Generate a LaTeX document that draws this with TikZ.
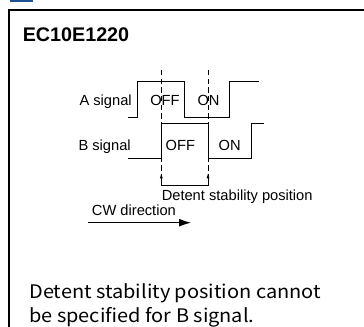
\documentclass[tikz,border=0pt]{standalone}
\usepackage{fontspec}
\setmainfont{Liberation Sans}
\newfontfamily\notefont[FakeStretch=1.07]{Noto Sans CJK JP}
\usetikzlibrary{arrows.meta}
\tikzset{>=Latex}
\tikzset{
  wave/.style={line width=0.6pt},
  guide/.style={line width=0.6pt,dash pattern=on 4pt off 2.5pt},
  lbl/.style={inner sep=0pt,font=\fontsize{11}{12}\selectfont},
  note/.style={inner sep=0pt,anchor=base west,font=\notefont\fontsize{14}{18}\selectfont},
}
\definecolor{tabblue}{HTML}{1C5393}
\def\level#1#2#3{
  \node[lbl,anchor=base] (#1) at (#2) {#3};
}

\begin{document}
\begin{tikzpicture}[x=0.75pt,y=-0.75pt]
\useasboundingbox (0,0) rectangle (364,327);
\fill[tabblue] (10,0) rectangle (33,1.8);
\draw[line width=1.6pt] (364,10) -- (9,10) -- (9,327);
\node[inner sep=0pt,anchor=base west,font=\bfseries\fontsize{14.8}{16}\selectfont] (title) at (22.5,42) {EC10E1220};
% waveforms
\draw[wave] (128,117.3) -- (137.7,117.3) -- (137.7,81.5) -- (184.5,81.5) -- (184.5,117.3)
  -- (229.3,117.3) -- (229.3,81.5) -- (258.5,81.5);
\draw[wave] (128,158.3) -- (161.3,158.3) -- (161.3,123.3) -- (208,123.3) -- (208,158.3)
  -- (251,158.3) -- (251,123.3) -- (264,123.3);
\node[lbl,anchor=base east] (asig) at (132,106) {A signal};
\node[lbl,anchor=base east] (bsig) at (131,150.5) {B signal};
\level{aoff}{165,106}{OFF}
\level{aon}{208.5,106}{ON}
\level{boff}{180.3,150.5}{OFF}
\level{bon}{229.7,150.5}{ON}
% detent position
\coordinate (d1) at (161.3,70);
\coordinate (d2) at (208,70);
\coordinate (e1) at (161.3,185);
\coordinate (e2) at (208,185);
\draw[guide] (d1) -- (161.3,176);
\draw[guide] (d2) -- (208,176);
\draw[wave,-{Latex[length=4pt,width=2.2pt]}] (e2) -- (e1) -- (161.3,173);
\draw[wave,-{Latex[length=4pt,width=2.2pt]}] (e1) -- (e2) -- (208,173);
\node[lbl,anchor=base west] (detent) at (161.5,201) {Detent stability position};
\node[lbl,anchor=base west] (cw) at (91.7,215.5) {CW direction};
\coordinate (cw1) at (88,222.7);
\coordinate (cw2) at (191,222.7);
\draw[line width=0.8pt,-{Latex[length=9pt,width=6pt]}] (cw1) -- (cw2);
\node[note] (note1) at (29,299) {Detent stability position cannot};
\node[note] (note2) at (29,323) {be specified for B signal.};
\end{tikzpicture}
\end{document}
